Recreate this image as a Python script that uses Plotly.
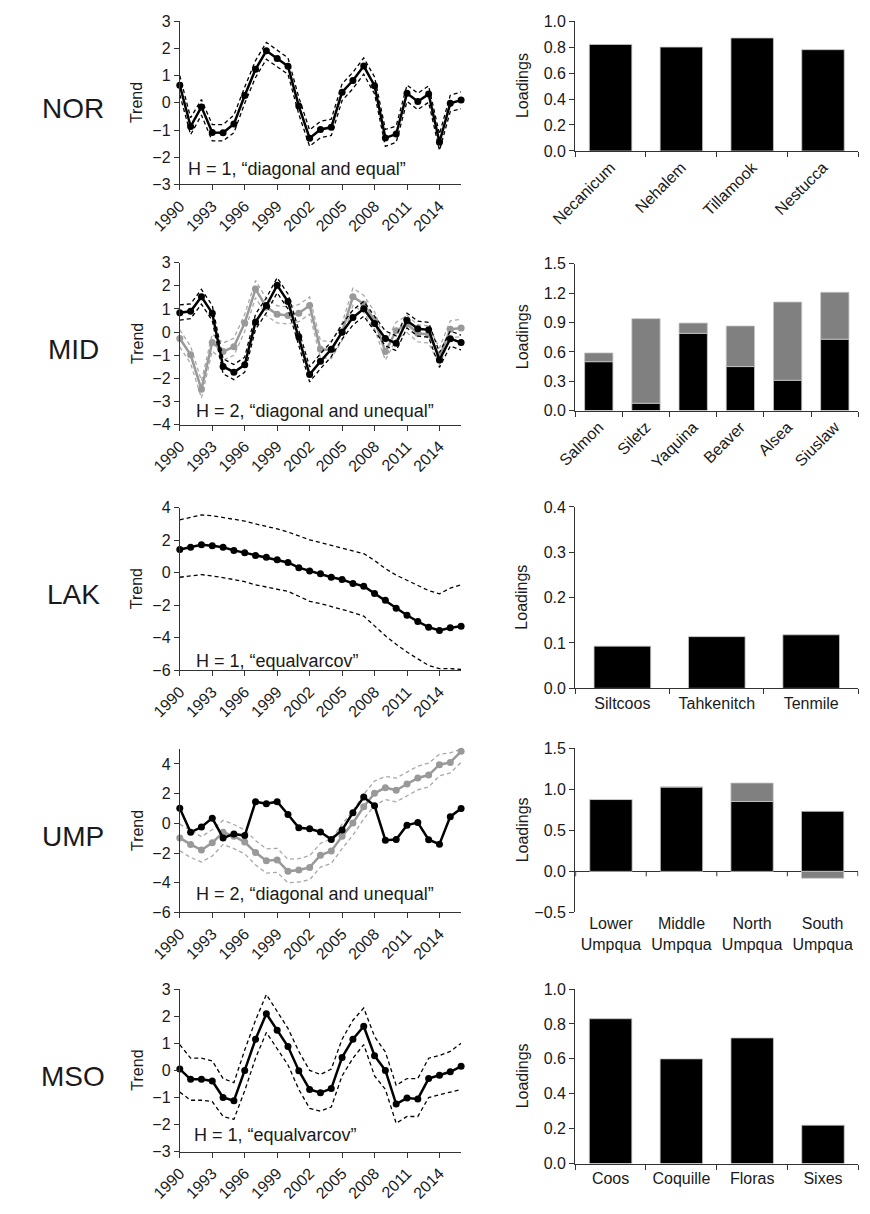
import plotly.graph_objects as go

# ---------------- data ----------------
years = list(range(1990, 2017))
year_tick_vals = list(range(1990, 2015, 3))
year_tick_text = [str(v) for v in year_tick_vals]

# NOR
nor_trend = [0.64, -0.87, -0.15, -1.09, -1.10, -0.78, 0.27, 1.23, 1.91, 1.63, 1.34, -0.12, -1.30, -0.98,
             -0.90, 0.39, 0.82, 1.35, 0.63, -1.29, -1.15, 0.35, 0.05, 0.32, -1.45, -0.02, 0.10]
nor_upper = [1.00, -0.55, 0.12, -0.80, -0.80, -0.45, 0.58, 1.55, 2.22, 1.93, 1.65, 0.20, -1.00, -0.68,
             -0.60, 0.70, 1.12, 1.65, 0.95, -0.98, -0.85, 0.65, 0.35, 0.62, -1.15, 0.28, 0.40]
nor_lower = [0.30, -1.17, -0.45, -1.40, -1.40, -1.10, -0.02, 0.93, 1.60, 1.33, 1.05, -0.42, -1.60, -1.28,
             -1.20, 0.08, 0.52, 1.05, 0.33, -1.60, -1.45, 0.05, -0.25, 0.02, -1.75, -0.32, -0.22]
nor_sites = ["Necanicum", "Nehalem", "Tillamook", "Nestucca"]
nor_load1 = [0.82, 0.80, 0.87, 0.78]

# MID
mid_trend1 = [0.84, 0.90, 1.53, 0.82, -1.48, -1.73, -1.41, 0.44, 1.15, 2.02, 1.32, -0.20, -1.83, -1.26,
              -0.74, 0.00, 0.63, 1.01, 0.37, -0.27, -0.48, 0.50, 0.15, 0.10, -1.20, -0.28, -0.45]
mid_upper1 = [1.18, 1.22, 1.85, 1.15, -1.15, -1.40, -1.08, 0.78, 1.48, 2.35, 1.65, 0.12, -1.50, -0.93,
              -0.42, 0.34, 0.95, 1.33, 0.70, 0.05, -0.16, 0.82, 0.48, 0.42, -0.88, 0.05, -0.13]
mid_lower1 = [0.52, 0.58, 1.21, 0.50, -1.80, -2.05, -1.73, 0.12, 0.83, 1.70, 1.00, -0.52, -2.15, -1.58,
              -1.06, -0.30, 0.31, 0.69, 0.05, -0.59, -0.80, 0.18, -0.17, -0.22, -1.52, -0.60, -0.77]
mid_trend2 = [-0.27, -0.98, -2.47, -0.45, -0.84, -0.63, 0.40, 1.86, 1.08, 0.77, 0.72, 0.82, 1.15, -0.74,
              -0.77, 0.01, 1.53, 1.22, 0.51, -0.84, 0.06, 0.35, -0.05, -0.10, -1.05, 0.12, 0.18]
mid_upper2 = [0.10, -0.61, -2.10, -0.08, -0.47, -0.26, 0.77, 2.23, 1.45, 1.14, 1.09, 1.19, 1.52, -0.37,
              -0.40, 0.38, 1.90, 1.59, 0.88, -0.47, 0.43, 0.72, 0.32, 0.27, -0.68, 0.49, 0.55]
mid_lower2 = [-0.64, -1.35, -2.84, -0.82, -1.21, -1.00, 0.03, 1.49, 0.71, 0.40, 0.35, 0.45, 0.78, -1.11,
              -1.14, -0.36, 1.16, 0.85, 0.14, -1.21, -0.31, -0.02, -0.42, -0.47, -1.42, -0.25, -0.19]
mid_sites = ["Salmon", "Siletz", "Yaquina", "Beaver", "Alsea", "Siuslaw"]
mid_load1 = [0.50, 0.075, 0.79, 0.45, 0.31, 0.73]
mid_load2 = [0.09, 0.865, 0.105, 0.415, 0.80, 0.48]

# LAK
lak_trend = [1.43, 1.56, 1.72, 1.66, 1.56, 1.37, 1.23, 1.05, 0.95, 0.79, 0.63, 0.31, 0.10, -0.07,
             -0.28, -0.42, -0.66, -0.83, -1.28, -1.70, -2.19, -2.62, -3.00, -3.35, -3.55, -3.38, -3.30]
lak_upper = [3.25, 3.40, 3.55, 3.50, 3.40, 3.30, 3.17, 3.00, 2.85, 2.69, 2.50, 2.25, 2.02, 1.85,
             1.68, 1.54, 1.35, 1.17, 0.75, 0.25, -0.15, -0.45, -0.80, -1.10, -1.30, -0.95, -0.75]
lak_lower = [-0.28, -0.20, -0.12, -0.20, -0.30, -0.42, -0.55, -0.75, -0.88, -1.01, -1.15, -1.45, -1.76, -1.90,
             -2.06, -2.26, -2.45, -2.67, -3.27, -3.88, -4.40, -4.88, -5.30, -5.70, -5.90, -5.90, -5.95]
lak_sites = ["Siltcoos", "Tahkenitch", "Tenmile"]
lak_load1 = [0.093, 0.114, 0.118]

# UMP
ump_trend1 = [1.01, -0.60, -0.25, 0.35, -0.98, -0.72, -0.82, 1.46, 1.32, 1.46, 0.60, -0.30, -0.36, -0.58,
              -1.09, -0.45, 0.72, 1.77, 1.18, -1.13, -1.09, -0.12, 0.05, -1.10, -1.40, 0.45, 1.00]
ump_trend2 = [-0.98, -1.42, -1.80, -1.31, -0.60, -0.87, -1.26, -1.97, -2.52, -2.46, -3.23, -3.14, -2.97, -2.15,
              -1.86, -0.87, 0.02, 1.12, 2.02, 2.40, 2.23, 2.65, 3.05, 3.25, 3.95, 4.10, 4.85]
ump_upper2 = [-0.05, -0.50, -0.90, -0.42, 0.20, -0.08, -0.45, -1.15, -1.72, -1.68, -2.42, -2.38, -2.18, -1.35,
              -1.05, -0.05, 0.85, 1.95, 2.85, 3.15, 3.05, 3.45, 3.85, 4.05, 4.65, 4.75, 5.00]
ump_lower2 = [-1.85, -2.30, -2.60, -2.20, -1.42, -1.70, -2.05, -2.80, -3.35, -3.30, -4.00, -3.95, -3.80, -2.95,
              -2.70, -1.70, -0.80, 0.30, 1.20, 1.60, 1.45, 1.85, 2.25, 2.45, 3.20, 3.40, 4.10]
ump_sites = ["Lower<br>Umpqua", "Middle<br>Umpqua", "North<br>Umpqua", "South<br>Umpqua"]
ump_load1 = [0.875, 1.028, 0.851, 0.731]
ump_load2 = [0.0, 0.0, 0.225, -0.084]

# MSO
mso_trend = [0.05, -0.33, -0.33, -0.39, -1.00, -1.12, 0.00, 1.15, 2.09, 1.48, 0.88, -0.01, -0.70, -0.82,
             -0.67, 0.48, 1.15, 1.63, 0.54, 0.00, -1.24, -1.02, -1.05, -0.30, -0.18, -0.05, 0.15]
mso_upper = [0.95, 0.45, 0.45, 0.35, -0.30, -0.45, 0.75, 1.85, 2.80, 2.15, 1.55, 0.70, 0.00, -0.15,
             0.05, 1.15, 1.85, 2.30, 1.25, 0.68, -0.55, -0.30, -0.30, 0.45, 0.55, 0.70, 1.00]
mso_lower = [-0.80, -1.10, -1.10, -1.15, -1.70, -1.80, -0.75, 0.45, 1.40, 0.80, 0.20, -0.70, -1.40, -1.50,
             -1.35, -0.20, 0.45, 0.95, -0.20, -0.70, -1.95, -1.70, -1.70, -1.00, -0.90, -0.80, -0.70]
mso_sites = ["Coos", "Coquille", "Floras", "Sixes"]
mso_load1 = [0.83, 0.60, 0.72, 0.22]

# ---------------- style ----------------
W, H = 870, 1214
FONT = "Arial, Liberation Sans, sans-serif"
TXT = "#1a1a1a"
AX = "#333333"
BLACK = "#000000"
GRAY = "#999999"
GRAY_D = "#a8a8a8"
GRAY_BAR = "#808080"
LEFT_PX = (156, 447)
RIGHT_PX = (565, 858)

panels = [
    dict(label="NOR", note="H = 1, \u201cdiagonal and equal\u201d", note_xy=(1990.6, -2.42),
         series=[(nor_trend, nor_upper, nor_lower, BLACK, BLACK)],
         yrange=(-3, 3), ydtick=1, left_px=(13.3, 179), right_px=(13.3, 145),
         sites=nor_sites, loads=[nor_load1], brange=(0, 1), bdtick=0.2, rot=True),
    dict(label="MID", note="H = 2, \u201cdiagonal and unequal\u201d", note_xy=(1991.3, -3.39),
         series=[(mid_trend2, mid_upper2, mid_lower2, GRAY, GRAY_D),
                 (mid_trend1, mid_upper1, mid_lower1, BLACK, BLACK)],
         yrange=(-4, 3), ydtick=1, left_px=(258.3, 422.7), right_px=(259.5, 408.3),
         sites=mid_sites, loads=[mid_load1, mid_load2], brange=(0, 1.5), bdtick=0.3, rot=True),
    dict(label="LAK", note="H = 1, \u201cequalvarcov\u201d", note_xy=(1991.3, -5.4),
         series=[(lak_trend, lak_upper, lak_lower, BLACK, BLACK)],
         yrange=(-6, 4), ydtick=2, left_px=(506.7, 671.7), right_px=(506.0, 690.0),
         sites=lak_sites, loads=[lak_load1], brange=(0, 0.4), bdtick=0.1, rot=False),
    dict(label="UMP", note="H = 2, \u201cdiagonal and unequal\u201d", note_xy=(1991.3, -4.74),
         series=[(ump_trend2, ump_upper2, ump_lower2, GRAY, GRAY_D),
                 (ump_trend1, None, None, BLACK, BLACK)],
         yrange=(-6, 5), ydtick=2, left_px=(751.6, 917.3), right_px=(750.7, 917.3),
         sites=ump_sites, loads=[ump_load1, ump_load2], brange=(-0.5, 1.5), bdtick=0.5, rot=False),
    dict(label="MSO", note="H = 1, \u201cequalvarcov\u201d", note_xy=(1991.1, -2.39),
         series=[(mso_trend, mso_upper, mso_lower, BLACK, BLACK)],
         yrange=(-3, 3), ydtick=1, left_px=(995.0, 1160.0), right_px=(995.0, 1172.0),
         sites=mso_sites, loads=[mso_load1], brange=(0, 1), bdtick=0.2, rot=False),
]


def ydom(px):
    top, bot = px
    return [1 - bot / H, 1 - top / H]


def xdom(px):
    return [px[0] / W, px[1] / W]


fig = go.Figure()
layout = dict(width=W, height=H, margin=dict(l=0, r=0, t=0, b=0),
              paper_bgcolor="white", plot_bgcolor="white", showlegend=False,
              barmode="relative", bargap=0.4, hovermode=False,
              font=dict(family=FONT, size=16, color=TXT))
annotations = []
shapes = []

for i, p in enumerate(panels):
    nl = 2 * i + 1
    nr = 2 * i + 2
    xl, yl = f"x{nl}", f"y{nl}"
    xr, yr = f"x{nr}", f"y{nr}"
    kl = "" if nl == 1 else str(nl)
    kr = str(nr)

    # ---- line panel ----
    for vals, up, lo, col, dcol in p["series"]:
        for band in (up, lo):
            if band is not None:
                fig.add_trace(go.Scatter(x=years, y=band, mode="lines", xaxis=xl, yaxis=yl,
                                         line=dict(color=dcol, width=1.3, dash="4px,3px"),
                                         cliponaxis=False, hoverinfo="skip"))
        fig.add_trace(go.Scatter(x=years, y=vals, mode="lines+markers", xaxis=xl, yaxis=yl,
                                 line=dict(color=col, width=2.5),
                                 marker=dict(color=col, size=7), cliponaxis=False))

    layout[f"xaxis{kl}"] = dict(domain=xdom(LEFT_PX), anchor=yl, range=[years[0], years[-1]],
                                tickmode="array", tickvals=year_tick_vals, ticktext=year_tick_text,
                                tickangle=-45, ticks="outside", ticklen=5, tickcolor=AX,
                                showline=True, linecolor=AX, linewidth=1, showgrid=False,
                                zeroline=False, tickfont=dict(size=16))
    layout[f"yaxis{kl}"] = dict(domain=ydom(p["left_px"]), anchor=xl, range=list(p["yrange"]),
                                tick0=p["yrange"][0], dtick=p["ydtick"], ticks="outside", ticklen=5,
                                tickcolor=AX, showline=True, linecolor=AX, linewidth=1,
                                showgrid=False, zeroline=False, tickfont=dict(size=16))

    annotations.append(dict(x=p["note_xy"][0], y=p["note_xy"][1], xref=xl, yref=yl,
                            text=p["note"], showarrow=False, xanchor="left", yanchor="middle",
                            font=dict(size=18, color=TXT)))
    ld = ydom(p["left_px"])
    annotations.append(dict(x=112 / W, y=(ld[0] + ld[1]) / 2, xref="paper", yref="paper",
                            text="Trend", textangle=-90, showarrow=False,
                            xanchor="center", yanchor="middle", font=dict(size=16, color=TXT)))
    annotations.append(dict(x=46 / W, y=(ld[0] + ld[1]) / 2 - 6 / H, xref="paper", yref="paper",
                            text=p["label"], showarrow=False,
                            xanchor="center", yanchor="middle", font=dict(size=28, color=TXT)))

    # ---- bar panel ----
    bar_cols = [BLACK, GRAY_BAR]
    for j, ld_vals in enumerate(p["loads"]):
        fig.add_trace(go.Bar(x=p["sites"], y=ld_vals, xaxis=xr, yaxis=yr,
                             marker=dict(color=bar_cols[j], line=dict(color="#c8c8c8", width=0.8))))

    is_ump = p["label"] == "UMP"
    layout[f"xaxis{kr}"] = dict(domain=xdom(RIGHT_PX), anchor=yr, type="category",
                                tickangle=-45 if p["rot"] else 0,
                                ticks="" if is_ump else "outside", tickson="boundaries",
                                ticklen=5, tickcolor=AX,
                                showline=not is_ump, linecolor=AX, linewidth=1,
                                showgrid=False, zeroline=False, tickfont=dict(size=16))
    layout[f"yaxis{kr}"] = dict(domain=ydom(p["right_px"]), anchor=xr, range=list(p["brange"]),
                                tick0=p["brange"][0], dtick=p["bdtick"], tickformat=".1f",
                                ticks="outside", ticklen=5, tickcolor=AX,
                                showline=True, linecolor=AX, linewidth=1, showgrid=False,
                                zeroline=is_ump, zerolinecolor=AX, zerolinewidth=1,
                                tickfont=dict(size=16))
    rd = ydom(p["right_px"])
    annotations.append(dict(x=510 / W, y=(rd[0] + rd[1]) / 2, xref="paper", yref="paper",
                            text="Loadings", textangle=-90, showarrow=False,
                            xanchor="center", yanchor="middle", font=dict(size=16, color=TXT)))
    if is_ump:
        span = p["brange"][1] - p["brange"][0]
        for k in range(len(p["sites"]) + 1):
            shapes.append(dict(type="line", xref=xr, yref=yr, x0=k - 0.5, x1=k - 0.5,
                               y0=0, y1=-span * 5 / (p["right_px"][1] - p["right_px"][0]),
                               line=dict(color=AX, width=1)))

layout["annotations"] = annotations
layout["shapes"] = shapes
fig.update_layout(**layout)
fig.write_html("out.html", config={"displayModeBar": False, "staticPlot": True},
               post_script="document.body.style.margin='0px';document.body.style.overflow='hidden';")
